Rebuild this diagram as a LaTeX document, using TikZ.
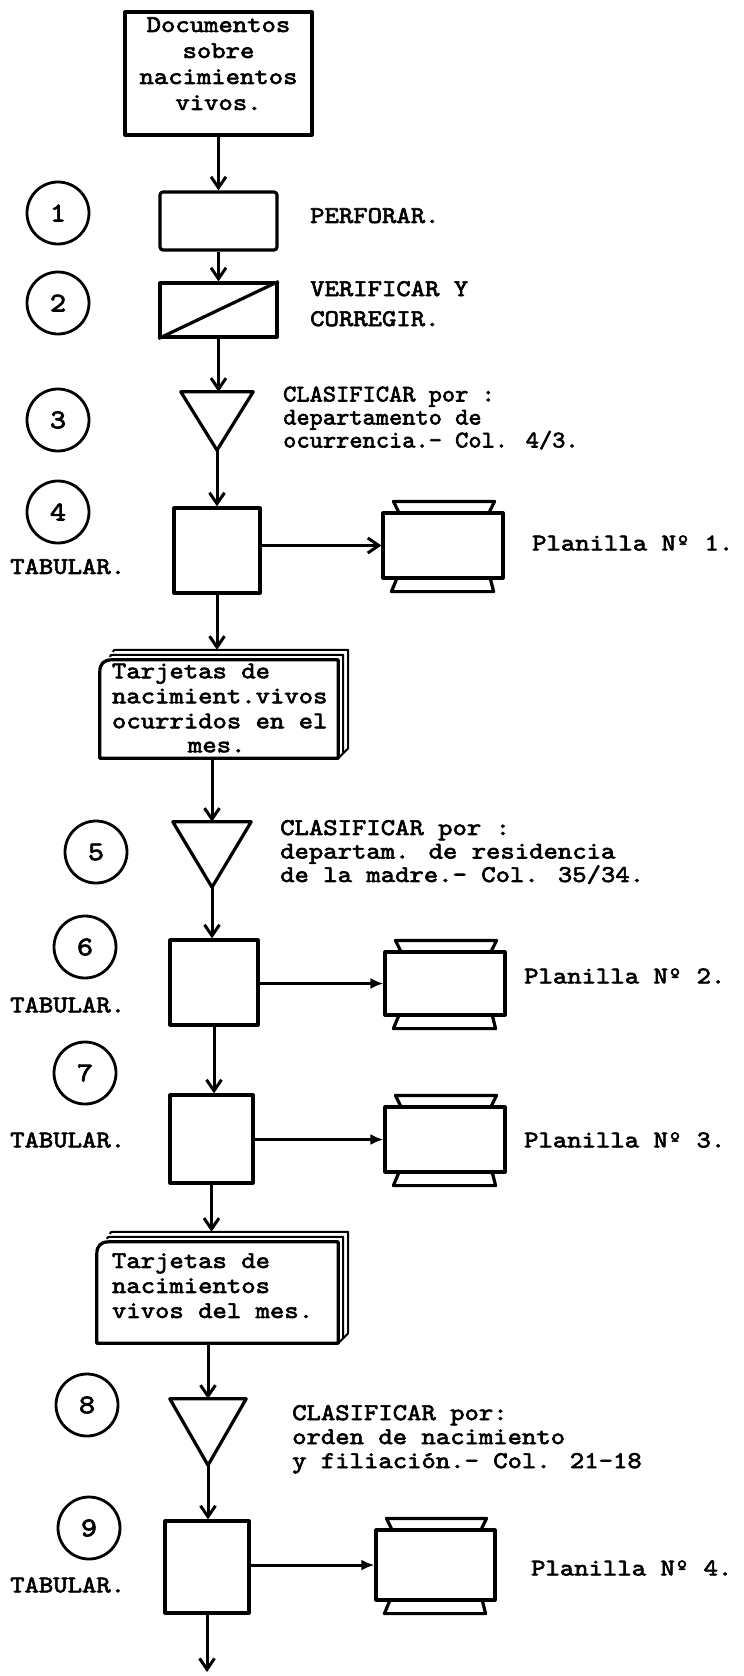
\documentclass[tikz,border=0pt]{standalone}
\usepackage{fontspec}
\newfontfamily\twfam[Extension=.otf, FakeStretch=1.14, FakeBold=2.6]{lmmono10-regular}
\newfontfamily\twnfam[Extension=.otf, FakeStretch=1.05, FakeBold=2.6]{lmmono10-regular}
\newcommand{\tw}{\twfam\fontsize{24pt}{26pt}\selectfont\lineskiplimit=-40pt\relax}
\newcommand{\twn}{\twnfam\fontsize{24pt}{26pt}\selectfont\lineskiplimit=-40pt\relax}
\newcommand{\numf}{\twfam\fontsize{27pt}{27pt}\selectfont}
\usetikzlibrary{arrows.meta}
\begin{document}
\begin{tikzpicture}[x=1pt,y=-1pt,
  shp/.style={draw, line width=3.2pt, line join=round},
  thinshp/.style={draw, line width=2pt, line join=round},
  conn/.style={line width=3pt, -{Straight Barb[length=11pt,width=15pt]}},
  fconn/.style={line width=3pt, -{Latex[length=13pt,width=11pt]}},
  num/.style={circle, draw, line width=2.8pt, minimum size=62pt, inner sep=0pt, font=\numf},
  proc/.style={shp, rectangle, inner sep=0pt},
  hold/.style={rectangle, inner sep=0pt},
  lbl/.style={font=\tw, inner sep=0pt, anchor=west, align=left},
  lbln/.style={font=\twn, inner sep=0pt, anchor=west, align=left}]
\useasboundingbox (0,0) rectangle (744,1676);
\fill[white] (0,0) rectangle (744,1676);

% main column
\node[proc, minimum width=187pt, minimum height=123pt,
  label={[lbl, anchor=center, align=center, yshift=9.8pt]center:Documentos\\sobre\\nacimientos\\vivos.}] (doc) at (218.5,73.5) {};
\node[proc, rounded corners=3pt, minimum width=117pt, minimum height=58pt] (b1) at (218.5,221) {};
\node[proc, minimum width=117pt, minimum height=54pt] (b2) at (218.5,310) {};
\draw[shp] (b2.south west) -- (b2.north east);
\node[hold, minimum width=72pt, minimum height=58pt] (t3) at (217,421) {};
\node[proc, minimum width=86pt, minimum height=85pt] (b4) at (217,550.5) {};
\node[proc, minimum width=120pt, minimum height=65pt] (p1) at (443,545.5) {};
\node[hold, minimum width=248pt, minimum height=108pt,
  label={[lbl, anchor=west, xshift=12pt, yshift=-4pt]west:Tarjetas de\\[-1pt]nacimient.vivos\\[-1pt]ocurridos en el\\[-2pt]\hspace*{76pt}mes.}] (c1) at (224,704) {};
\node[hold, minimum width=78pt, minimum height=65pt] (t5) at (212,854.5) {};
\node[proc, minimum width=88pt, minimum height=85pt] (b6) at (214,982.5) {};
\node[proc, minimum width=120pt, minimum height=63pt] (p2) at (445,983.5) {};
\node[proc, minimum width=83pt, minimum height=88pt] (b7) at (211.5,1139) {};
\node[proc, minimum width=120pt, minimum height=65pt] (p3) at (445,1139.5) {};
\node[hold, minimum width=251pt, minimum height=111pt,
  label={[lbl, anchor=west, xshift=15pt, yshift=1.8pt]west:Tarjetas de\\[-1pt]nacimientos\\[-1pt]vivos del mes.}] (c2) at (222.5,1287.5) {};
\node[hold, minimum width=76pt, minimum height=66pt] (t8) at (208,1432) {};
\node[proc, minimum width=84pt, minimum height=92pt] (b9) at (207,1567) {};
\node[proc, minimum width=119pt, minimum height=70pt] (p4) at (435.5,1565) {};
\coordinate (end) at (207,1672);

% triangles
\foreach \t in {t3,t5,t8}
  \draw[shp] (\t.north west) -- (\t.north east) -- (\t.south) -- cycle;

% report symbols
\foreach \p in {p1,p2,p3,p4} {
  \draw[shp] ([xshift=17pt]\p.north west) -- ([xshift=12pt,yshift=10pt]\p.north west)
    -- ([xshift=-10pt,yshift=10pt]\p.north east) -- ([xshift=-15pt]\p.north east);
  \draw[shp] ([xshift=15pt]\p.south west) -- ([xshift=10pt,yshift=-12pt]\p.south west)
    -- ([xshift=-11pt,yshift=-12pt]\p.south east) -- ([xshift=-14pt]\p.south east);
}

% card stacks
\foreach \c in {c1,c2} {
  \draw[shp] ([yshift=-22pt]\c.north west) .. controls ([yshift=-14pt]\c.north west) and ([xshift=4pt,yshift=-10pt]\c.north west) .. ([xshift=12pt,yshift=-10pt]\c.north west)
    -- ([xshift=-10pt,yshift=-10pt]\c.north east) -- ([xshift=-10pt]\c.south east) -- (\c.south west) -- cycle;
  \draw[thinshp] ([xshift=10pt,yshift=-7pt]\c.north west) .. controls ([xshift=11pt,yshift=-5pt]\c.north west) .. ([xshift=14pt,yshift=-5pt]\c.north west)
    -- ([xshift=-5pt,yshift=-5pt]\c.north east) -- ([xshift=-5pt,yshift=5pt]\c.south east) -- ([xshift=-10pt]\c.south east);
  \draw[thinshp] ([xshift=13pt,yshift=-2pt]\c.north west) .. controls ([xshift=14pt]\c.north west) .. ([xshift=17pt]\c.north west)
    -- (\c.north east) -- ([yshift=10pt]\c.south east) -- ([xshift=-5pt,yshift=5pt]\c.south east);
}

% step numbers
\node[num] (n1) at (58,213) {1};
\node[num] (n2) at (58,303) {2};
\node[num] (n3) at (58,420) {3};
\node[num] (n4) at (58,512) {4};
\node[num] (n5) at (96,852) {5};
\node[num] (n6) at (85,947) {6};
\node[num] (n7) at (85,1073) {7};
\node[num] (n8) at (87,1405) {8};
\node[num] (n9) at (89,1528) {9};

% labels
\node[lbl] (perf) at (310,215.6) {PERFORAR.};
\node[lbl] (verif) at (310,303.7) {VERIFICAR Y\\[4pt]CORREGIR.};
\node[lbln] (cls3) at (283,418) {CLASIFICAR por :\\[-3pt]departamento de\\[-3pt]ocurrencia.- Col. 4/3.};
\node[lbl] (tab4) at (10,566.6) {TABULAR.};
\node[lbl] (pl1) at (532,543) {Planilla Nº 1.};
\node[lbl] (cls5) at (280,852) {CLASIFICAR por :\\[-2.5pt]departam. de residencia\\[-2.5pt]de la madre.- Col. 35/34.};
\node[lbl] (tab6) at (10,1005) {TABULAR.};
\node[lbl] (pl2) at (524,976) {Planilla Nº 2.};
\node[lbl] (tab7) at (10,1140) {TABULAR.};
\node[lbl] (pl3) at (524,1140) {Planilla Nº 3.};
\node[lbl] (cls8) at (292,1439.3) {CLASIFICAR por:\\[-2pt]orden de nacimiento\\[-2pt]y filiación.- Col. 21-18};
\node[lbl] (tab9) at (10,1585) {TABULAR.};
\node[lbl] (pl4) at (531,1568) {Planilla Nº 4.};

% connectors
\draw[conn] (doc) -- (b1);
\draw[conn] (b1) -- (b2);
\draw[conn] (b2.south) -- (b2.south |- t3.north);
\draw[conn] (t3.south) -- (t3.south |- b4.north);
\draw[conn] (b4.east |- p1.west) -- (p1.west);
\draw[conn] (b4.south) -- (b4.south |- c1.north);
\draw[conn] (c1.south -| t5.north) -- (t5.north);
\draw[conn] (t5.south) -- (t5.south |- b6.north);
\draw[fconn] (b6.east |- p2.west) -- (p2.west);
\draw[conn] (b6.south) -- (b6.south |- b7.north);
\draw[fconn] (b7.east |- p3.west) -- (p3.west);
\draw[conn] (b7.south) -- (b7.south |- c2.north);
\draw[conn] (c2.south -| t8.north) -- (t8.north);
\draw[conn] (t8.south) -- (t8.south |- b9.north);
\draw[fconn] (b9.east |- p4.west) -- (p4.west);
\draw[conn] (b9.south) -- (end);
\end{tikzpicture}
\end{document}
